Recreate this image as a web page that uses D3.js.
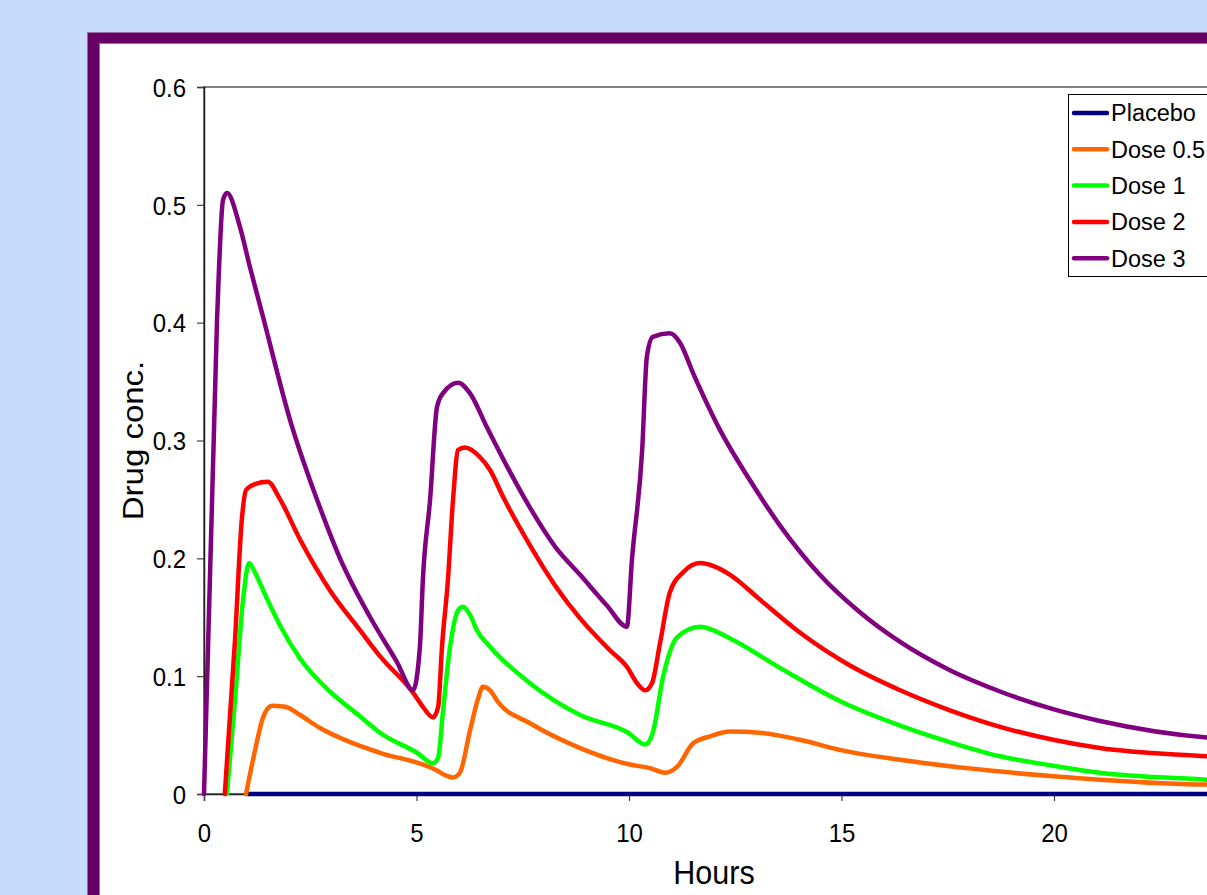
<!DOCTYPE html>
<html>
<head>
<meta charset="utf-8">
<script src="https://cdn.jsdelivr.net/npm/d3@7/dist/d3.min.js"></script>
<style>
  html, body { margin: 0; padding: 0; background: #c7dcfb; overflow: hidden; }
  svg { display: block; font-family: "Liberation Sans", Arial, sans-serif; }
</style>
</head>
<body>
<svg id="chart" width="1207" height="895"></svg>
<script>
// ---- Data ----
const seriesNames = ["Placebo", "Dose 0.5", "Dose 1", "Dose 2", "Dose 3"];
const seriesColors = ["#000080", "#ff6600", "#00ff00", "#ff0000", "#800080"];

const placeboHours = [1.0, 24];
const placeboConc  = [0, 0];

const dose05Hours = [0.99, 1.2, 1.39, 1.6, 1.91, 2.26, 2.73, 3.44, 4.14, 5.48, 5.67, 5.86, 6.02, 6.26, 6.45, 6.56, 6.73, 6.92, 7.67, 8.85, 10.02, 10.49, 10.85, 11.13, 11.51, 11.91, 12.38, 13.08, 14.02, 15.01, 16.38, 18.73, 19.98, 21.08, 23.6, 24];
const dose05Conc  = [0, 0.037, 0.065, 0.075, 0.074, 0.067, 0.056, 0.044, 0.035, 0.020, 0.016, 0.014, 0.018, 0.054, 0.081, 0.091, 0.088, 0.078, 0.060, 0.039, 0.025, 0.022, 0.018, 0.023, 0.043, 0.049, 0.053, 0.052, 0.046, 0.037, 0.029, 0.019, 0.015, 0.012, 0.008, 0.008];

const dose1Hours = [0.54, 0.73, 0.92, 1.06, 1.2, 1.44, 1.79, 2.26, 2.96, 3.67, 4.14, 5.01, 5.39, 5.51, 5.62, 5.79, 5.98, 6.09, 6.26, 6.42, 6.73, 7.67, 8.85, 9.98, 10.38, 10.56, 10.8, 11.13, 11.67, 12.38, 13.55, 15.01, 16.38, 17.55, 18.73, 19.98, 21.08, 23.6, 24];
const dose1Conc  = [0, 0.080, 0.165, 0.196, 0.188, 0.169, 0.143, 0.115, 0.087, 0.066, 0.052, 0.035, 0.026, 0.031, 0.069, 0.125, 0.156, 0.159, 0.152, 0.139, 0.125, 0.094, 0.067, 0.052, 0.042, 0.052, 0.099, 0.133, 0.142, 0.132, 0.107, 0.078, 0.058, 0.044, 0.032, 0.024, 0.018, 0.012, 0.011];

const dose2Hours = [0.49, 0.73, 0.89, 0.99, 1.2, 1.5, 1.79, 2.26, 2.96, 3.67, 4.14, 4.92, 5.15, 5.39, 5.51, 5.6, 5.74, 5.86, 5.98, 6.14, 6.49, 6.73, 7.04, 7.67, 8.26, 8.85, 9.55, 9.95, 10.19, 10.38, 10.54, 10.73, 10.96, 11.27, 11.67, 12.02, 12.38, 13.08, 14.02, 15.2, 16.38, 17.55, 18.73, 19.98, 21.08, 23.6, 24];
const dose2Conc  = [0, 0.131, 0.233, 0.258, 0.263, 0.265, 0.250, 0.216, 0.173, 0.139, 0.117, 0.086, 0.074, 0.065, 0.074, 0.125, 0.182, 0.250, 0.292, 0.294, 0.286, 0.275, 0.252, 0.211, 0.177, 0.149, 0.122, 0.108, 0.094, 0.088, 0.094, 0.128, 0.171, 0.188, 0.196, 0.193, 0.186, 0.165, 0.137, 0.109, 0.088, 0.071, 0.057, 0.046, 0.039, 0.032, 0.031];

const dose3Hours = [0, 0.306, 0.447, 0.54, 0.847, 1.082, 1.388, 2.02, 2.73, 3.2, 3.91, 4.54, 4.92, 5.08, 5.15, 5.32, 5.48, 5.62, 5.98, 6.26, 6.66, 7.13, 7.67, 8.26, 8.85, 9.48, 9.95, 10.07, 10.31, 10.42, 10.56, 10.96, 11.2, 11.51, 12.14, 12.85, 13.55, 14.49, 15.44, 16.38, 17.55, 18.73, 19.98, 21.08, 23.6, 24];
const dose3Conc  = [0, 0.402, 0.504, 0.510, 0.481, 0.447, 0.405, 0.318, 0.243, 0.200, 0.150, 0.112, 0.088, 0.125, 0.182, 0.250, 0.328, 0.340, 0.349, 0.340, 0.311, 0.278, 0.243, 0.210, 0.186, 0.160, 0.142, 0.199, 0.292, 0.371, 0.388, 0.391, 0.383, 0.357, 0.309, 0.266, 0.228, 0.186, 0.154, 0.129, 0.105, 0.087, 0.072, 0.062, 0.048, 0.047];

const xTicks = [0, 5, 10, 15, 20];
const yTicks = [0, 0.1, 0.2, 0.3, 0.4, 0.5, 0.6];
const xTitle = "Hours";
const yTitle = "Drug conc.";

// ---- Build series table ----
const seriesHours = [placeboHours, dose05Hours, dose1Hours, dose2Hours, dose3Hours];
const seriesConc  = [placeboConc, dose05Conc, dose1Conc, dose2Conc, dose3Conc];
const series = seriesNames.map((name, i) => ({
  name, color: seriesColors[i],
  points: seriesHours[i].map((h, j) => ({h, c: seriesConc[i][j]}))
}));

// ---- Layout ----
const svg = d3.select("#chart");
const W = 1207, H = 895;
const FONT = '"Liberation Sans", Arial, sans-serif';

svg.append("rect").attr("x", 0).attr("y", 0).attr("width", W).attr("height", H).attr("fill", "#c7dcfb");
// purple frame
svg.append("rect").attr("x", 87.5).attr("y", 32.5).attr("width", 1300).attr("height", 1000)
  .attr("fill", "#660066").attr("stroke", "#9c6aa6").attr("stroke-width", 1);
svg.append("rect").attr("x", 99.5).attr("y", 43.5).attr("width", 1300).attr("height", 1000)
  .attr("fill", "#ffffff").attr("stroke", "#9c6aa6").attr("stroke-width", 1);

const plot = {left: 204, top: 87, right: 1224, bottom: 794};
const x = d3.scaleLinear().domain([0, 24]).range([plot.left, plot.right]);
const y = d3.scaleLinear().domain([0, 0.6]).range([plot.bottom, plot.top]);

// plot area border (gray)
svg.append("rect").attr("x", plot.left).attr("y", plot.top)
  .attr("width", plot.right - plot.left).attr("height", plot.bottom - plot.top)
  .attr("fill", "none").attr("stroke", "#808080").attr("stroke-width", 2);

// axes
const yAxis = d3.axisLeft(y).tickValues(yTicks).tickSize(7).tickPadding(10)
  .tickFormat(d => d === 0 ? "0" : d3.format(".1f")(d));
const gy = svg.append("g").attr("transform", `translate(${plot.left},0)`).call(yAxis);
const xAxis = d3.axisBottom(x).tickValues(xTicks).tickSize(7).tickPadding(14).tickFormat(d3.format("d"));
const gx = svg.append("g").attr("transform", `translate(0,${plot.bottom})`).call(xAxis);
[gx, gy].forEach(g => {
  g.select(".domain").attr("stroke", "#202020").attr("stroke-width", 1.5);
  g.selectAll(".tick line").attr("stroke", "#404040").attr("stroke-width", 1.2);
  g.selectAll(".tick text").attr("fill", "#000").style("font-size", "24px").style("font-family", FONT);
});
gy.selectAll(".tick text").attr("x", 0).attr("dy", "0.35em")
  .attr("transform", "translate(-18,0) scale(1,1.1)");
gx.selectAll(".tick text").attr("y", 0).attr("dy", 0)
  .attr("transform", "translate(0,48) scale(1,1.1)");

// axis titles
svg.append("text").attr("transform", `translate(${x(12)},884) scale(1,1.1)`).attr("text-anchor", "middle")
  .style("font-size", "30.5px").attr("fill", "#000").text(xTitle);
svg.append("text").attr("transform", `translate(143,${(plot.top + plot.bottom) / 2}) rotate(-90) scale(1.1,1)`)
  .attr("text-anchor", "middle").style("font-size", "30px").attr("fill", "#000").text(yTitle);

// lines
const line = d3.line().x(d => x(d.h)).y(d => y(d.c)).curve(d3.curveMonotoneX);
const clip = svg.append("clipPath").attr("id", "clip");
clip.append("rect").attr("x", plot.left - 3).attr("y", plot.top - 3)
  .attr("width", plot.right - plot.left + 6).attr("height", plot.bottom - plot.top + 6);
const gl = svg.append("g").attr("clip-path", "url(#clip)");
series.forEach(s => {
  gl.append("path").datum(s.points).attr("d", line)
    .attr("fill", "none").attr("stroke", s.color).attr("stroke-width", 4.5)
    .attr("stroke-linejoin", "round").attr("stroke-linecap", "round");
});

// legend
const lg = svg.append("g");
lg.append("rect").attr("x", 1068.5).attr("y", 94.5).attr("width", 160).attr("height", 182)
  .attr("fill", "#fff").attr("stroke", "#000").attr("stroke-width", 1);
series.forEach((s, i) => {
  const yy = 113 + i * 36.3;
  lg.append("line").attr("x1", 1074).attr("x2", 1107).attr("y1", yy).attr("y2", yy)
    .attr("stroke", s.color).attr("stroke-width", 4.5).attr("stroke-linecap", "round");
  lg.append("text").attr("x", 1111).attr("y", yy).attr("dy", "0.36em")
    .style("font-size", "23.5px").attr("fill", "#000").text(s.name);
});
</script>
</body>
</html>
